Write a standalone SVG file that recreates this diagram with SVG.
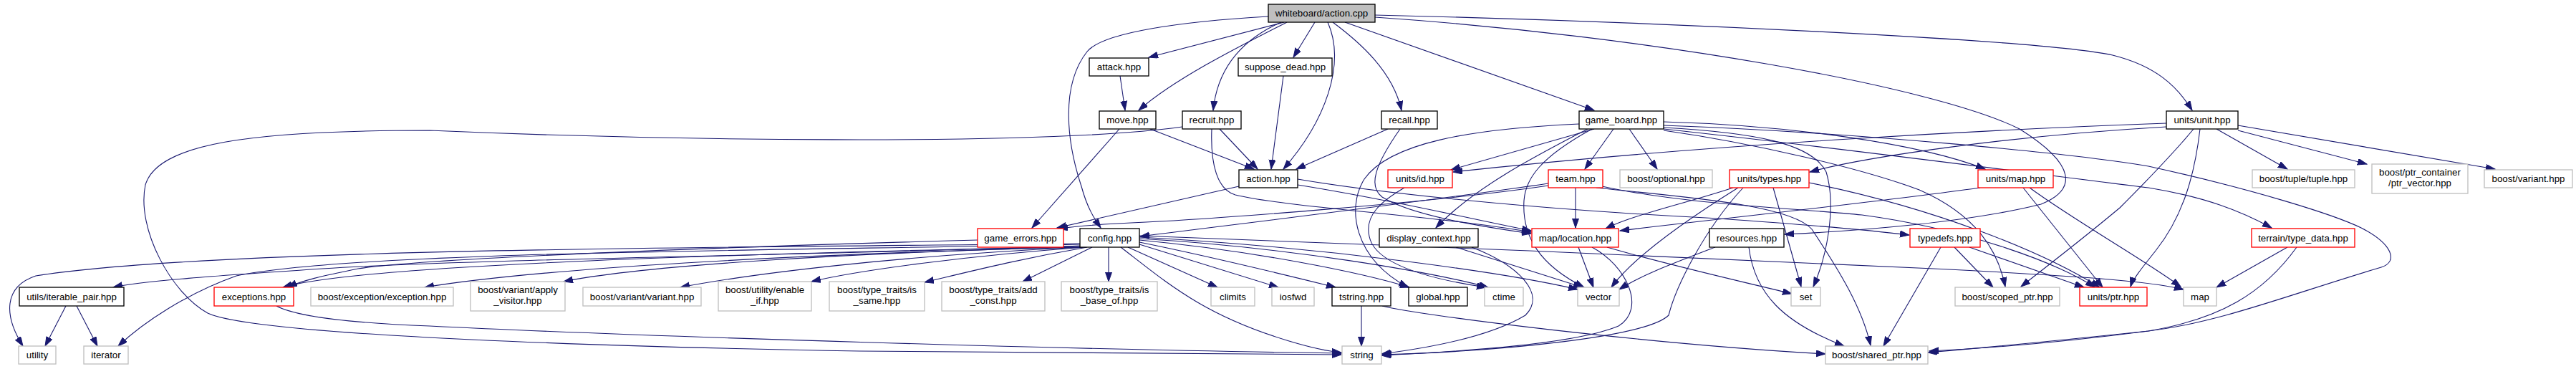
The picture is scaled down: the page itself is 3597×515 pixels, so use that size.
<svg xmlns="http://www.w3.org/2000/svg" width="3597" height="515" viewBox="0 0 3597 515">
<style>
rect{fill:#fff;stroke:#000;stroke-width:1.33}
.g rect{stroke:#bfbfbf}
.r rect{stroke:#f00}
.root rect{fill:#bfbfbf}
text{font-family:"Liberation Sans",Arial,Helvetica,sans-serif;font-size:13.3px;fill:#000;text-anchor:middle}
#edges path{fill:none;stroke:#191970;stroke-width:1.1;marker-end:url(#ah)}
</style>
<defs>
<marker id="ah" markerUnits="userSpaceOnUse" markerWidth="14" markerHeight="10" refX="13" refY="4.5" orient="auto">
<path d="M0,0 L13,4.5 L0,9 z" fill="#191970" stroke="#191970" stroke-width="1"/>
</marker>
</defs>
<rect x="0" y="0" width="3597" height="515" style="fill:#fff;stroke:none"/>
<g id="edges">
<path d="M1793,31 L1604,80"/>
<path d="M1836,31 L1806,80"/>
<path d="M1797,31 C1730,65 1640,110 1590,154"/>
<path d="M1789,31 C1735,55 1700,95 1694,154"/>
<path d="M1861,31 C1900,60 1945,100 1957,154"/>
<path d="M1878,31 L2226,154"/>
<path d="M1920,21 C2300,30 2850,55 2950,77 C3010,92 3040,120 3061,154"/>
<path d="M1854,31 C1880,90 1850,170 1792,236"/>
<path d="M1771,23 C1650,30 1540,45 1518,72 C1480,120 1490,200 1510,260 C1518,290 1528,305 1537,318"/>
<path d="M1920,24 C2300,50 2700,120 2820,180 C2900,230 2900,265 2850,285 C2750,310 2600,322 2492,327"/>
<path d="M1564,106 L1571,154"/>
<path d="M1792,106 L1775,236"/>
<path d="M1606,180 L1751,236"/>
<path d="M1563,180 L1441,318"/>
<path d="M1703,180 L1756,236"/>
<path d="M1692,180 C1690,230 1700,265 1725,272 C1800,290 2000,300 2138,324"/>
<path d="M1651,177 C1450,205 900,195 600,182 C350,182 220,200 203,258 C190,320 240,410 290,437 C360,470 900,485 1200,490 C1500,494 1750,495 1873,495"/>
<path d="M1938,180 L1810,236"/>
<path d="M1955,180 C1920,230 1910,260 1930,275 C1970,300 2060,315 2138,326"/>
<path d="M2226,180 L2026,237"/>
<path d="M2253,180 L2213,236"/>
<path d="M2275,180 L2314,236"/>
<path d="M2217,180 C2150,215 2060,260 2005,318"/>
<path d="M2223,180 C2150,220 2130,250 2128,280 C2125,330 2150,370 2212,401"/>
<path d="M2205,173 C2050,180 1940,200 1905,250 C1880,290 1890,360 1966,401"/>
<path d="M2323,170 C2500,175 2680,200 2772,236"/>
<path d="M2323,178 C2450,185 2530,200 2550,240 C2565,290 2550,360 2532,400"/>
<path d="M2323,182 C2450,200 2600,235 2680,265 C2760,300 2790,350 2800,400"/>
<path d="M2323,180 C2600,210 2900,250 3000,262 C3080,275 3130,295 3172,318"/>
<path d="M2323,175 C2600,185 2900,215 3000,232 C3150,265 3260,300 3297,318 C3340,340 3350,365 3325,373 C3200,410 3100,450 3000,462 C2900,475 2800,485 2694,490"/>
<path d="M3025,172 C2800,180 2400,200 2029,240"/>
<path d="M3025,177 C2800,190 2600,220 2527,240"/>
<path d="M3095,180 L3194,236"/>
<path d="M3125,182 L3305,229"/>
<path d="M3125,175 L3484,236"/>
<path d="M3063,180 C3030,220 2990,260 2960,290 C2900,340 2860,370 2822,400"/>
<path d="M3072,180 C3065,240 3050,300 3010,350 C2990,375 2978,390 2975,400"/>
<path d="M1730,260 L1476,318"/>
<path d="M1812,258 C1950,280 2050,305 2138,322"/>
<path d="M1812,250 C1900,265 2100,290 2400,305 C2500,312 2600,320 2666,328"/>
<path d="M1961,262 C1930,280 1905,300 1912,330 C1920,370 2000,390 2075,401"/>
<path d="M2162,256 C2000,280 1750,310 1592,330"/>
<path d="M2162,259 C2000,283 1700,305 1600,310 C1550,312 1510,315 1478,319"/>
<path d="M2200,262 L2200,318"/>
<path d="M2229,262 C2350,275 2500,285 2530,320 C2570,380 2600,430 2612,482"/>
<path d="M2237,260 C2350,285 2500,290 2600,300 C2750,320 2880,370 2925,401"/>
<path d="M2420,262 C2350,285 2280,300 2242,319"/>
<path d="M2427,262 C2350,310 2280,360 2250,401"/>
<path d="M2434,262 C2380,320 2340,400 2330,440 C2300,470 2100,490 1930,495"/>
<path d="M2476,262 L2515,400"/>
<path d="M2526,255 C2700,290 2850,350 2932,401"/>
<path d="M2825,262 L2936,401"/>
<path d="M2834,262 C2900,310 2990,360 3045,400"/>
<path d="M2765,262 C2600,285 2400,305 2262,322"/>
<path d="M1508,343 C1200,355 700,360 450,375 C300,385 200,392 158,401"/>
<path d="M1508,340 C1100,345 300,345 50,385 C5,400 5,440 32,483"/>
<path d="M1508,341 C1100,350 500,350 330,385 C260,410 200,450 165,483"/>
<path d="M1508,344 C1000,355 500,370 395,401"/>
<path d="M1509,345 C1100,355 750,375 593,401"/>
<path d="M1510,345 C1200,352 900,370 787,393"/>
<path d="M1512,345 C1250,357 1050,382 950,401"/>
<path d="M1515,345 C1350,357 1200,377 1133,393"/>
<path d="M1518,345 C1420,362 1350,380 1291,394"/>
<path d="M1525,345 L1428,393"/>
<path d="M1548,345 L1548,393"/>
<path d="M1575,345 L1700,401"/>
<path d="M1591,341 L1785,401"/>
<path d="M1591,338 C1700,360 1800,385 1865,401"/>
<path d="M1591,335 C1750,350 1900,380 1968,401"/>
<path d="M1591,333 C1800,345 2000,380 2078,401"/>
<path d="M1591,331 C1850,345 2100,380 2203,404"/>
<path d="M1591,329 C1900,340 2400,360 2700,375 C2900,385 3000,392 3049,404"/>
<path d="M1565,345 C1630,395 1680,440 1800,476 C1830,485 1850,490 1873,492"/>
<path d="M1365,335 C1000,345 600,360 500,375 C450,385 420,392 402,401"/>
<path d="M386,427 C420,445 520,452 600,455 C900,470 1500,488 1873,493"/>
<path d="M92,427 L63,483"/>
<path d="M107,427 L136,483"/>
<path d="M1901,427 L1901,483"/>
<path d="M1930,427 C1980,440 2300,480 2549,494"/>
<path d="M2033,345 L2210,401"/>
<path d="M2055,345 C2120,370 2160,410 2130,440 C2080,470 2000,485 1929,494"/>
<path d="M2204,345 L2225,401"/>
<path d="M2223,345 C2270,370 2300,430 2260,455 C2200,480 2050,490 1929,496"/>
<path d="M2244,345 C2330,370 2420,390 2502,410"/>
<path d="M2395,345 C2330,370 2290,385 2261,404"/>
<path d="M2442,345 C2450,410 2490,450 2575,483"/>
<path d="M2710,345 L2630,483"/>
<path d="M2729,345 L2783,401"/>
<path d="M2750,345 L2910,401"/>
<path d="M3194,345 L3095,401"/>
<path d="M3207,345 C3160,410 3100,445 3000,462 C2850,478 2750,487 2692,492"/>
</g>
<g id="n_wb" class="root"><rect x="1771" y="6" width="149" height="25"/><text x="1845.5" y="23">whiteboard/action.cpp</text></g>
<g id="n_attack"><rect x="1521" y="81" width="83" height="25"/><text x="1562.5" y="98">attack.hpp</text></g>
<g id="n_suppose"><rect x="1729" y="81" width="131" height="25"/><text x="1794.5" y="98">suppose_dead.hpp</text></g>
<g id="n_move"><rect x="1535" y="155" width="79" height="25"/><text x="1574.5" y="172">move.hpp</text></g>
<g id="n_recruit"><rect x="1651" y="155" width="82" height="25"/><text x="1692" y="172">recruit.hpp</text></g>
<g id="n_recall"><rect x="1929" y="155" width="78" height="25"/><text x="1968" y="172">recall.hpp</text></g>
<g id="n_game_board"><rect x="2205" y="155" width="118" height="25"/><text x="2264" y="172">game_board.hpp</text></g>
<g id="n_unit"><rect x="3025" y="155" width="100" height="25"/><text x="3075" y="172">units/unit.hpp</text></g>
<g id="n_action"><rect x="1730" y="237" width="82" height="25"/><text x="1771" y="254">action.hpp</text></g>
<g id="n_id" class="r"><rect x="1938" y="237" width="90" height="25"/><text x="1983" y="254">units/id.hpp</text></g>
<g id="n_team" class="r"><rect x="2162" y="237" width="76" height="25"/><text x="2200" y="254">team.hpp</text></g>
<g id="n_optional" class="g"><rect x="2262" y="237" width="129" height="25"/><text x="2326.5" y="254">boost/optional.hpp</text></g>
<g id="n_types" class="r"><rect x="2415" y="237" width="111" height="25"/><text x="2470.5" y="254">units/types.hpp</text></g>
<g id="n_umap" class="r"><rect x="2762" y="237" width="105" height="25"/><text x="2814.5" y="254">units/map.hpp</text></g>
<g id="n_tuple" class="g"><rect x="3145" y="237" width="143" height="25"/><text x="3216.5" y="254">boost/tuple/tuple.hpp</text></g>
<g id="n_ptrvec" class="g"><rect x="3312" y="229" width="134" height="41"/><text x="3379" y="245">boost/ptr_container</text><text x="3379" y="260">/ptr_vector.hpp</text></g>
<g id="n_variant" class="g"><rect x="3469" y="237" width="123" height="25"/><text x="3530.5" y="254">boost/variant.hpp</text></g>
<g id="n_game_errors" class="r"><rect x="1365" y="319" width="120" height="26"/><text x="1425" y="336.5">game_errors.hpp</text></g>
<g id="n_config"><rect x="1508" y="319" width="83" height="26"/><text x="1549.5" y="336.5">config.hpp</text></g>
<g id="n_display"><rect x="1926" y="319" width="138" height="26"/><text x="1995" y="336.5">display_context.hpp</text></g>
<g id="n_location" class="r"><rect x="2139" y="319" width="121" height="26"/><text x="2199.5" y="336.5">map/location.hpp</text></g>
<g id="n_resources"><rect x="2387" y="319" width="104" height="26"/><text x="2439" y="336.5">resources.hpp</text></g>
<g id="n_typedefs" class="r"><rect x="2667" y="319" width="98" height="26"/><text x="2716" y="336.5">typedefs.hpp</text></g>
<g id="n_terrain" class="r"><rect x="3144" y="319" width="144" height="26"/><text x="3216" y="336.5">terrain/type_data.hpp</text></g>
<g id="n_iterable"><rect x="27" y="401" width="146" height="26"/><text x="100" y="418.5">utils/iterable_pair.hpp</text></g>
<g id="n_exceptions" class="r"><rect x="299" y="401" width="111" height="26"/><text x="354.5" y="418.5">exceptions.hpp</text></g>
<g id="n_bexception" class="g"><rect x="434" y="401" width="199" height="26"/><text x="533.5" y="418.5">boost/exception/exception.hpp</text></g>
<g id="n_apply" class="g"><rect x="657" y="393" width="132" height="41"/><text x="723" y="409">boost/variant/apply</text><text x="723" y="424">_visitor.hpp</text></g>
<g id="n_vvariant" class="g"><rect x="814" y="401" width="165" height="26"/><text x="896.5" y="418.5">boost/variant/variant.hpp</text></g>
<g id="n_enable" class="g"><rect x="1003" y="393" width="130" height="41"/><text x="1068" y="409">boost/utility/enable</text><text x="1068" y="424">_if.hpp</text></g>
<g id="n_issame" class="g"><rect x="1158" y="393" width="133" height="41"/><text x="1224.5" y="409">boost/type_traits/is</text><text x="1224.5" y="424">_same.hpp</text></g>
<g id="n_addconst" class="g"><rect x="1315" y="393" width="144" height="41"/><text x="1387" y="409">boost/type_traits/add</text><text x="1387" y="424">_const.hpp</text></g>
<g id="n_isbase" class="g"><rect x="1482" y="393" width="134" height="41"/><text x="1549" y="409">boost/type_traits/is</text><text x="1549" y="424">_base_of.hpp</text></g>
<g id="n_climits" class="g"><rect x="1691" y="401" width="61" height="26"/><text x="1721.5" y="418.5">climits</text></g>
<g id="n_iosfwd" class="g"><rect x="1776" y="401" width="59" height="26"/><text x="1805.5" y="418.5">iosfwd</text></g>
<g id="n_tstring"><rect x="1860" y="401" width="82" height="26"/><text x="1901" y="418.5">tstring.hpp</text></g>
<g id="n_global"><rect x="1967" y="401" width="82" height="26"/><text x="2008" y="418.5">global.hpp</text></g>
<g id="n_ctime" class="g"><rect x="2073" y="401" width="54" height="26"/><text x="2100" y="418.5">ctime</text></g>
<g id="n_vector" class="g"><rect x="2203" y="401" width="58" height="26"/><text x="2232" y="418.5">vector</text></g>
<g id="n_set" class="g"><rect x="2501" y="401" width="41" height="26"/><text x="2521.5" y="418.5">set</text></g>
<g id="n_scoped" class="g"><rect x="2730" y="401" width="146" height="26"/><text x="2803" y="418.5">boost/scoped_ptr.hpp</text></g>
<g id="n_uptr" class="r"><rect x="2904" y="401" width="94" height="26"/><text x="2951" y="418.5">units/ptr.hpp</text></g>
<g id="n_map" class="g"><rect x="3049" y="401" width="46" height="26"/><text x="3072" y="418.5">map</text></g>
<g id="n_utility" class="g"><rect x="26" y="483" width="52" height="25"/><text x="52" y="500">utility</text></g>
<g id="n_iterator" class="g"><rect x="117" y="483" width="62" height="25"/><text x="148" y="500">iterator</text></g>
<g id="n_string" class="g"><rect x="1874" y="483" width="55" height="25"/><text x="1901.5" y="500">string</text></g>
<g id="n_shared" class="g"><rect x="2549" y="483" width="143" height="25"/><text x="2620.5" y="500">boost/shared_ptr.hpp</text></g>
</svg>
